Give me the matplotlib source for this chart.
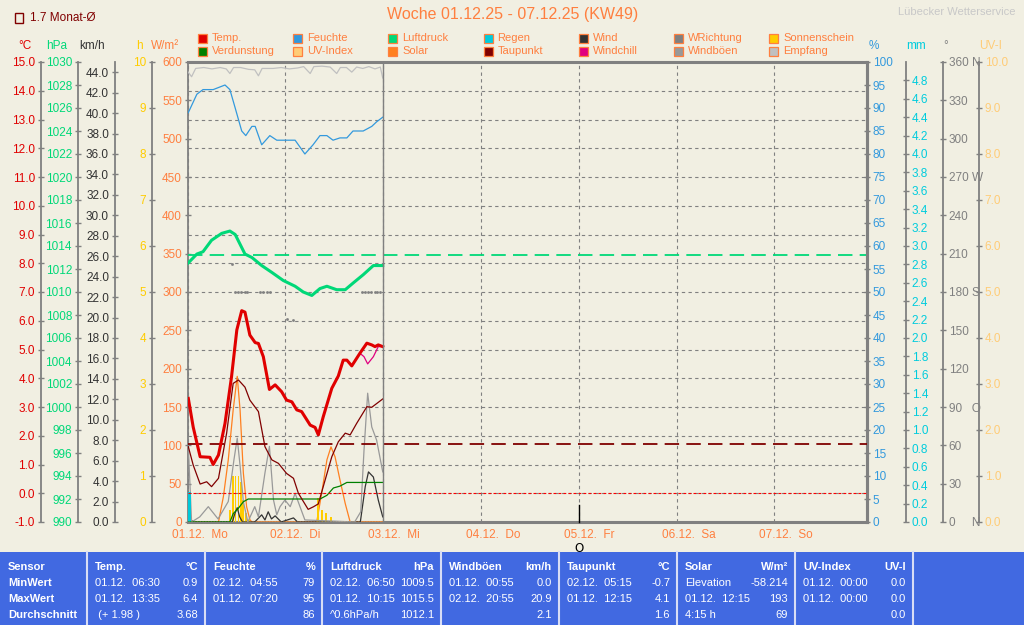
import matplotlib
matplotlib.use('Agg')
import matplotlib.pyplot as plt
from matplotlib.patches import Rectangle
from matplotlib.lines import Line2D
from matplotlib.transforms import ScaledTranslation, blended_transform_factory
import numpy as np

plt.rcParams['font.family'] = ['Liberation Sans', 'DejaVu Sans']
plt.rcParams['font.size'] = 8

BG = '#f1efe2'
GRID = '#808080'
ORANGE = '#ff7f3f'

# ---- data: hours since 01.12. 00:00 ----
temp_h = [0.2, 1.4, 3.1, 5.5, 6.3, 7.6, 9.2, 10.8, 12.1, 13.3, 14.1, 15.3, 16.6, 17.4, 18.6,
          20.1, 21.5, 23.1, 24.3, 25.6, 26.8, 28.0, 30.1, 31.3, 32.1, 33.3, 35.4, 37.0, 38.2,
          39.1, 40.3, 42.3, 44.0, 45.2, 46.0, 46.8, 47.9]
temp_c = [3.3, 2.3, 1.27, 1.25, 1.0, 1.33, 2.43, 4.05, 5.68, 6.35, 6.3, 5.5, 5.24, 5.21, 4.75,
          3.61, 3.77, 3.53, 3.24, 3.18, 2.9, 2.84, 2.37, 2.29, 2.03, 2.66, 3.65, 4.08, 4.63,
          4.63, 4.43, 4.87, 5.22, 5.16, 5.1, 5.16, 5.1]

chill_h = [42.3, 43.3, 44.2, 45.6, 46.8, 47.9]
chill_c = [4.87, 4.75, 4.5, 4.75, 5.1, 5.1]

dew_h = [0.2, 1.4, 3.1, 4.7, 5.9, 7.6, 9.6, 11.2, 12.5, 14.1, 15.3, 17.4, 19.0, 20.7, 22.3,
         24.3, 26.0, 27.2, 29.6, 30.9, 32.1, 33.3, 35.4, 37.0, 38.7, 39.9, 41.5, 44.0, 45.2, 47.9]
dew_c = [1.62, 0.98, 0.32, 0.40, 0.23, 0.52, 2.09, 3.82, 3.94, 3.69, 3.24, 2.84, 1.62, 1.16, 1.04,
         0.69, 0.52, 0.0, -0.56, -0.47, -0.37, 0.23, 1.27, 1.79, 2.09, 2.03, 2.43, 3.01, 2.99, 3.28]

hum_h = [0.2, 2.3, 3.8, 6.3, 9.2, 10.4, 11.7, 13.3, 14.3, 15.8, 16.6, 18.2, 20.2, 21.9, 24.3,
         26.4, 28.8, 30.8, 32.5, 34.2, 35.7, 37.4, 39.1, 40.6, 43.1, 45.2, 46.4, 47.9]
hum_pct = [89, 93, 94, 94, 95, 94, 90, 85, 84, 86, 86, 82, 84, 83, 83,
           83, 80, 82, 84, 84, 83, 83.5, 83.5, 85, 85, 86, 87, 88]

press_h = [0.1, 2.3, 3.8, 5.9, 8.4, 10.4, 11.7, 14.1, 15.8, 18.2, 20.7, 23.5, 26.4, 28.4,
           30.5, 32.5, 34.2, 36.6, 38.7, 40.7, 43.1, 45.6, 47.9]
press_hpa = [1012.5, 1013.3, 1013.5, 1014.5, 1015.1, 1015.3, 1015.0, 1013.3, 1013.0, 1012.3,
             1011.7, 1011.0, 1010.5, 1010.0, 1009.7, 1010.3, 1010.5, 1010.2, 1010.2, 1010.8,
             1011.5, 1012.3, 1012.3]

empf_h = [0, 1.0, 2.0, 4, 6, 8, 9.5, 10.4, 11.3, 13, 15, 16.5, 17.4, 18.3, 21, 23, 25, 27, 28.5,
          30.1, 31, 33, 35, 36.6, 37.5, 39, 40.3, 41.5, 43, 44.5, 46, 47.3, 47.9]
empf_pct = [98.0, 96.8, 98.6, 98.8, 98.5, 98.8, 98.5, 97.5, 98.8, 98.8, 98.4, 98.3, 97.0, 98.6,
            98.6, 98.8, 98.5, 98.7, 99.0, 97.5, 99.0, 99.1, 98.9, 97.5, 98.8, 98.8, 97.8, 98.9,
            98.6, 99.0, 98.5, 98.9, 96.5]

solar_h = [0, 7.6, 8.8, 10.0, 11.2, 12.2, 12.9, 13.7, 14.5, 15.3, 15.8, 31.7, 32.9, 34.2, 35.2,
           36.2, 37.4, 38.7, 39.9, 47.9]
solar_w = [0, 0, 33, 81, 146, 190, 146, 64, 20, 3, 0, 0, 37, 81, 98, 85, 55, 24, 0, 0]

sun_h = [10.4, 11.2, 11.8, 12.5, 13.1, 13.7, 14.4, 15.2, 32.1, 33.0, 33.9, 35.2]
sun_val = [0.26, 1.0, 1.0, 1.0, 0.88, 0.48, 0.2, 0.07, 0.52, 0.27, 0.19, 0.1]

evap_h = [0, 10.4, 11.2, 12.5, 13.7, 14.9, 32.5, 34.2, 35.8, 37.4, 39.1, 47.9]
evap_mm = [0, 0, 0.09, 0.15, 0.22, 0.25, 0.25, 0.29, 0.37, 0.39, 0.43, 0.43]

rain_h = [0.0]
rain_mm = [0.33]

wind_h = [0, 0.8, 1.5, 11.0, 11.6, 12.2, 12.8, 13.5, 16.5, 18.2, 19.0, 19.8, 20.6, 21.5, 23.0,
          26.0, 27.0, 42.4, 43.6, 44.4, 45.6, 46.8, 47.9]
wind_kmh = [3.0, 0.2, 0, 0, 0.8, 1.4, 0.5, 0, 0, 0.7, 0.2, 1.0, 0.3, 0.6, 0, 0.4, 0, 0, 3.45,
            4.9, 4.4, 2.15, 0.5]

gust_h = [0.2, 1.0, 3.0, 5.1, 7.5, 10.0, 11.4, 12.2, 12.9, 13.7, 14.8, 16.5, 17.4, 19.0, 20.1,
          21.1, 21.9, 22.7, 23.9, 25.2, 26.4, 27.6, 28.8, 41.0, 42.5, 43.3, 44.2, 45.2, 46.4, 47.9]
gust_kmh = [7.4, 0, 0.5, 1.5, 0.3, 2.0, 6.1, 8.2, 5.5, 2.0, 0, 1.5, 0.5, 4.8, 7.4,
            2.15, 0.7, 1.5, 2.15, 1.5, 2.8, 1.5, 0.2, 0, 1.0, 7.0, 12.6, 9.3, 8.0, 4.9]

dir_h = [10.9, 11.7, 12.4, 13.2, 14.0, 14.6, 17.8, 18.6, 19.4, 20.2, 24.3, 26.0,
         42.7, 43.5, 44.3, 45.1, 45.9, 46.6, 47.2]
dir_deg = [202, 180, 180, 180, 180, 180, 180, 180, 180, 180, 159, 158,
           180, 180, 180, 180, 180, 180, 180]

uv_h = [0, 47.9]
uv_val = [0, 0]

month_avg = 1.7
std_press = 1013.25
moon_h = 96

day_ticks = [0, 24, 48, 72, 96, 120, 144]
day_labels = ['01.12.  Mo', '02.12.  Di', '03.12.  Mi', '04.12.  Do', '05.12.  Fr',
              '06.12.  Sa', '07.12.  So']

# ---- figure ----
W, H = 1024, 625
L, R, T, B = 187.5, 867, 62, 522
fig = plt.figure(figsize=(W / 100, H / 100), dpi=100, facecolor=BG)
ax = fig.add_axes([L / W, 1 - B / H, (R - L) / W, (B - T) / H], facecolor=BG)


def fx(px):
    return (px - L) / (R - L)


def fig_text(x, y, s, **kw):
    return fig.text(x / W, 1 - y / H, s, **kw)


# base axis: temperature scale, frame and grid
ax.set_xlim(0, 166.7)
ax.set_ylim(-1, 15)
ax.set_yticks(np.arange(-1, 16, 1))
ax.set_yticklabels(['%.1f' % v for v in np.arange(-1, 16, 1)])
ax.spines['left'].set_position(('axes', fx(40.5)))
ax.spines['left'].set_color(GRID)
ax.spines['left'].set_linewidth(1.3)
for s in ('top', 'bottom', 'right'):
    ax.spines[s].set_color(GRID)
    ax.spines[s].set_linewidth(2.2)
ax.tick_params(axis='y', direction='inout', length=5, width=1, color=GRID,
               labelcolor='#e00000', pad=1.5, labelsize=8.5)
ax.grid(True, color=GRID, linestyle=(0, (3, 3)), linewidth=0.8)
ax.set_xticks(day_ticks)
ax.set_xticklabels(day_labels)
ax.tick_params(axis='x', length=0, labelcolor=ORANGE, pad=5, labelsize=8.5)
for lab in ax.get_xticklabels():
    lab.set_horizontalalignment('left')
    lab.set_transform(lab.get_transform() + ScaledTranslation(-15 / 100, 0, fig.dpi_scale_trans))


def scale_axis(lo, hi, ticks, labels, color, side, xpix):
    a = ax.twinx()
    a.set_ylim(lo, hi)
    for s in a.spines.values():
        s.set_visible(False)
    sp = a.spines[side]
    sp.set_visible(True)
    sp.set_position(('axes', fx(xpix)))
    sp.set_color(GRID)
    sp.set_linewidth(1.3)
    a.yaxis.set_ticks_position(side)
    a.yaxis.set_label_position(side)
    a.set_yticks(ticks)
    a.set_yticklabels(labels)
    a.tick_params(axis='y', direction='inout', length=5, width=1, color=GRID,
                  labelcolor=color, pad=1.5, labelsize=8.5)
    return a


t = np.arange(0, 601, 50)
axW = scale_axis(0, 600, t, ['%d' % v for v in t], ORANGE, 'left', L)
t = np.arange(0, 11, 1)
axH = scale_axis(0, 10, t, ['%d' % v for v in t], '#ffcc00', 'left', 151.5)
t = np.arange(0, 45, 2)
axK = scale_axis(0, 45, t, ['%.1f' % v for v in t], '#333333', 'left', 114.5)
t = np.arange(990, 1031, 2)
axP = scale_axis(990, 1030, t, ['%d' % v for v in t], '#00d878', 'left', 77.5)
t = np.arange(0, 101, 5)
axPct = scale_axis(0, 100, t, ['%d' % v for v in t], '#3399dd', 'right', R)
axPct.spines['right'].set_linewidth(2.2)
t = np.arange(0, 4.81, 0.2)
axMM = scale_axis(0, 5, t, ['%.1f' % v for v in t], '#00ccdd', 'right', 906)
t = np.arange(0, 361, 30)
deg_lab = {0: '0     N', 90: '90   O', 180: '180 S', 270: '270 W', 360: '360 N'}
axD = scale_axis(0, 360, t, [deg_lab.get(int(v), '%d' % v) for v in t], GRID, 'right', 943)
t = np.arange(0, 10.1, 1)
axUV = scale_axis(0, 10, t, ['%.1f' % v for v in t], '#ffcc77', 'right', 979)

# data on their own scales
axH.bar(sun_h, sun_val, width=0.42, color='#ffcc00', linewidth=0)
axW.plot(solar_h, solar_w, color='#ff8020', lw=0.9)
axK.plot(wind_h, wind_kmh, color='#333333', lw=0.9)
axK.plot(gust_h, gust_kmh, color='#999999', lw=0.9)
axD.plot(dir_h, dir_deg, ls='none', marker='s', ms=0.9, color=GRID)
axMM.plot(evap_h, evap_mm, color='#008000', lw=0.9)
axMM.bar(rain_h, rain_mm, width=0.75, align='edge', color='#00c8d8', linewidth=0)
axUV.plot(uv_h, uv_val, color='#ffcc77', lw=1, ls=(0, (1, 1)))
axPct.plot(empf_h, empf_pct, color='#c0c0c0', lw=0.9)
axPct.plot(hum_h, hum_pct, color='#3399dd', lw=0.9)
axP.axhline(std_press, color='#00d878', lw=1.3, dashes=(8, 4))
axP.plot(press_h, press_hpa, color='#00d878', lw=2.2)

axT = ax.twinx()
axT.set_ylim(-1, 15)
axT.set_yticks([])
for s in axT.spines.values():
    s.set_visible(False)
axT.axhline(month_avg, color='#800000', lw=1.3, dashes=(8, 4))
axT.axhline(0, color='#ff0000', lw=0.8, dashes=(2.5, 2))
axT.plot(dew_h, dew_c, color='#800000', lw=0.9)
axT.plot(chill_h, chill_c, color='#e0007f', lw=0.9)
axT.plot(temp_h, temp_c, color='#e00000', lw=2.2)
axT.axvline(48, color=GRID, lw=1)

# moon marker
bt = blended_transform_factory(ax.transData, ax.transAxes)
axT.plot([moon_h, moon_h], [0, 0.037], transform=bt, color='black', lw=1, clip_on=False)
axT.text(moon_h, -0.058, 'O', transform=bt, ha='center', va='center', fontsize=8.5,
         color='black', family='DejaVu Sans')

# axis headers
for x, s, c, ha in [(25, '°C', '#e00000', 'center'), (57, 'hPa', '#00d878', 'center'),
                    (92, 'km/h', '#333333', 'center'), (139, 'h', '#ffcc00', 'center'),
                    (165, 'W/m²', ORANGE, 'center'), (869, '%', '#3399dd', 'left'),
                    (906, 'mm', '#00ccdd', 'left'), (943, '°', GRID, 'left'),
                    (979, 'UV-I', '#ffcc77', 'left')]:
    fig_text(x, 46, s, color=c, ha=ha, va='center', fontsize=8.5)

# title and corner texts
fig_text(513, 15, 'Woche 01.12.25 - 07.12.25 (KW49)', color=ORANGE, ha='center',
         va='center', fontsize=11.5)
fig_text(1016, 12, 'Lübecker Wetterservice', color='#c8c8c8', ha='right', va='center',
         fontsize=8)
fig.patches.append(Rectangle((15 / W, 1 - 23 / H), 8 / W, 10 / H, transform=fig.transFigure,
                             fill=False, edgecolor='#800000', lw=1))
fig_text(30, 18, '1.7 Monat-Ø', color='#800000', ha='left', va='center', fontsize=8.5)

# legend
legend_rows = [
    [('Temp.', '#e00000'), ('Feuchte', '#3399dd'), ('Luftdruck', '#00d878'), ('Regen', '#00ccdd'),
     ('Wind', '#333333'), ('WRichtung', '#808080'), ('Sonnenschein', '#ffcc00')],
    [('Verdunstung', '#008000'), ('UV-Index', '#ffcc77'), ('Solar', '#ff8020'),
     ('Taupunkt', '#800000'), ('Windchill', '#e0007f'), ('Windböen', '#999999'),
     ('Empfang', '#c0c0c0')],
]
for r, row in enumerate(legend_rows):
    yc = 38 + 13.5 * r
    for i, (name, col) in enumerate(row):
        x0 = 198 + 95.2 * i
        fig.patches.append(Rectangle((x0 / W, 1 - (yc + 4.5) / H), 9 / W, 9 / H,
                                     transform=fig.transFigure, facecolor=col,
                                     edgecolor=ORANGE, lw=0.9))
        fig_text(x0 + 14, yc, name, color=ORANGE, ha='left', va='center', fontsize=8)

# summary table
fig.patches.append(Rectangle((0, 0), 1, 73 / H, transform=fig.transFigure,
                             facecolor='#4169e1', edgecolor='none'))
seps = [87, 205, 322, 441, 559, 677, 795, 913]
for sx in seps:
    fig.add_artist(Line2D([sx / W, sx / W], [0, 73 / H], transform=fig.transFigure,
                          color='#d8ddf5', lw=1.5))

row_y = [567, 583, 599, 615]
for y, s in zip(row_y, ['Sensor', 'MinWert', 'MaxWert', 'Durchschnitt']):
    fig_text(8, y, s, color='white', fontweight='bold', va='center', fontsize=8)

table_cols = [
    ('Temp.', '°C', [('01.12.  06:30', '0.9'), ('01.12.  13:35', '6.4'), (' (+ 1.98 )', '3.68')]),
    ('Feuchte', '%', [('02.12.  04:55', '79'), ('01.12.  07:20', '95'), ('', '86')]),
    ('Luftdruck', 'hPa', [('02.12.  06:50', '1009.5'), ('01.12.  10:15', '1015.5'),
                          ('^0.6hPa/h', '1012.1')]),
    ('Windböen', 'km/h', [('01.12.  00:55', '0.0'), ('02.12.  20:55', '20.9'), ('', '2.1')]),
    ('Taupunkt', '°C', [('02.12.  05:15', '-0.7'), ('01.12.  12:15', '4.1'), ('', '1.6')]),
    ('Solar', 'W/m²', [('Elevation', '-58.214'), ('01.12.  12:15', '193'), ('4:15 h', '69')]),
    ('UV-Index', 'UV-I', [('01.12.  00:00', '0.0'), ('01.12.  00:00', '0.0'), ('', '0.0')]),
]
for i, (name, unit, rows) in enumerate(table_cols):
    xl = seps[i] + 8
    xr = seps[i + 1] - 7
    fig_text(xl, row_y[0], name, color='white', fontweight='bold', va='center', fontsize=8)
    fig_text(xr, row_y[0], unit, color='white', fontweight='bold', va='center', ha='right',
             fontsize=8)
    for (left, right), y in zip(rows, row_y[1:]):
        fig_text(xl, y, left, color='white', va='center', fontsize=8)
        fig_text(xr, y, right, color='white', va='center', ha='right', fontsize=8)

fig.savefig('out.png', dpi=100, facecolor=BG)
